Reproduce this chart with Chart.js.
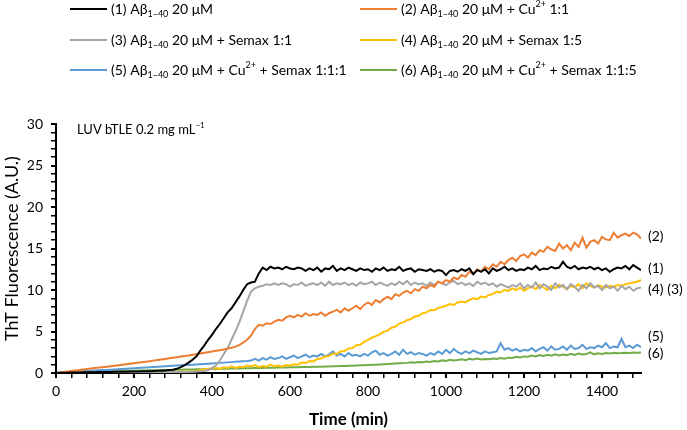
<!DOCTYPE html>
<html><head><meta charset="utf-8">
<script src="https://cdn.jsdelivr.net/npm/chart.js@4"></script>
<style>html,body{margin:0;padding:0;background:#fff}#wrap{width:687px;height:430px;position:relative}</style>
</head><body><div id="wrap"><canvas id="c"></canvas></div>
<script>
const FONT = 'Lato, "Open Sans", sans-serif';

const times = [
0,10,20,30,40,50,60,70,80,90,
100,110,120,130,140,150,160,170,180,190,
200,210,220,230,240,250,260,270,280,290,
300,310,320,330,340,350,360,370,380,390,
400,410,420,430,440,450,460,470,480,490,
500,510,520,530,540,550,560,570,580,590,
600,610,620,630,640,650,660,670,680,690,
700,710,720,730,740,750,760,770,780,790,
800,810,820,830,840,850,860,870,880,890,
900,910,920,930,940,950,960,970,980,990,
1000,1010,1020,1030,1040,1050,1060,1070,1080,1090,
1100,1110,1120,1130,1140,1150,1160,1170,1180,1190,
1200,1210,1220,1230,1240,1250,1260,1270,1280,1290,
1300,1310,1320,1330,1340,1350,1360,1370,1380,1390,
1400,1410,1420,1430,1440,1450,1460,1470,1480,1490,
1500];

const s1_AB = [
0.00,0.02,0.03,0.04,0.05,0.06,0.07,0.08,0.09,0.10,
0.10,0.11,0.12,0.12,0.13,0.14,0.14,0.15,0.16,0.17,
0.18,0.19,0.20,0.21,0.22,0.24,0.26,0.28,0.31,0.35,
0.40,0.50,0.70,0.95,1.25,1.60,2.00,2.70,3.30,4.00,
4.60,5.30,5.90,6.60,7.30,7.80,8.50,9.20,10.0,10.7,
10.9,11.0,12.0,12.7,12.4,12.8,12.6,12.7,12.5,12.8,
12.6,12.5,12.7,12.6,12.3,12.6,12.4,12.7,12.2,12.6,
12.5,12.9,12.3,12.6,12.4,12.7,12.5,12.3,12.6,12.4,
12.5,12.2,12.6,12.4,12.7,12.3,12.5,12.4,12.8,12.3,
12.5,12.6,12.2,12.5,12.4,12.3,12.5,12.2,12.4,12.3,
11.8,12.3,12.4,12.2,12.5,12.3,12.6,11.9,12.4,12.2,
12.5,12.0,12.6,12.3,12.5,12.8,12.4,12.6,12.3,12.5,
12.4,12.7,12.5,12.9,12.4,12.6,12.5,12.8,12.6,12.7,
13.4,12.8,12.6,12.9,12.5,12.7,12.6,12.8,12.5,12.7,
12.4,12.6,12.2,12.5,12.7,12.6,12.9,12.5,13.0,12.7,
12.4];

const s2_AB_Cu = [
0.00,0.05,0.11,0.17,0.23,0.29,0.35,0.41,0.47,0.53,
0.59,0.65,0.70,0.76,0.82,0.88,0.94,1.00,1.06,1.12,
1.18,1.24,1.30,1.36,1.42,1.49,1.56,1.63,1.70,1.77,
1.84,1.91,1.98,2.05,2.12,2.19,2.27,2.35,2.43,2.51,
2.59,2.67,2.75,2.84,2.94,3.05,3.18,3.35,3.65,4.00,
4.50,5.30,5.80,5.70,6.00,5.90,6.20,6.40,6.30,6.70,
6.90,6.70,7.00,6.80,7.20,6.90,7.10,7.00,7.30,6.90,
7.20,7.40,7.60,7.30,7.80,7.50,7.80,8.10,7.70,8.20,
8.50,8.20,8.80,8.50,8.90,9.20,8.90,9.50,9.30,9.70,
9.90,9.60,10.1,9.90,10.4,10.2,10.6,10.4,11.0,10.8,
11.2,11.0,11.5,11.3,11.8,11.6,12.2,11.9,12.5,12.2,
12.8,12.5,13.1,12.8,13.4,13.1,13.6,13.9,13.5,14.1,
14.3,13.9,14.5,14.2,14.8,14.6,15.2,14.9,14.7,15.6,
15.0,15.4,14.8,15.7,15.2,16.3,15.1,15.8,16.0,15.6,
16.4,16.1,16.0,16.9,16.3,16.6,16.8,16.5,16.9,16.7,
16.2];

const s3_AB_Semax11 = [
0.00,0.01,0.02,0.02,0.03,0.03,0.04,0.04,0.05,0.05,
0.05,0.06,0.06,0.06,0.07,0.07,0.07,0.08,0.08,0.08,
0.09,0.09,0.09,0.10,0.10,0.10,0.10,0.11,0.11,0.11,
0.12,0.12,0.13,0.13,0.14,0.15,0.17,0.20,0.25,0.35,
0.60,0.90,1.50,2.30,3.00,4.00,5.00,6.10,7.40,8.70,
9.80,10.2,10.4,10.5,10.7,10.6,10.8,10.6,10.8,10.7,
10.4,10.7,10.6,10.9,10.5,10.7,10.8,10.6,10.9,10.5,
11.0,10.6,10.8,10.7,10.9,10.6,10.8,10.5,10.9,10.7,
10.8,11.0,10.6,10.9,10.7,10.5,10.8,10.6,11.0,10.7,
11.1,10.6,10.9,10.7,10.8,10.5,10.9,10.6,11.0,10.8,
10.6,10.9,11.1,10.7,10.9,10.6,10.8,10.5,11.0,10.7,
10.9,10.6,10.8,10.4,10.7,10.5,10.3,10.6,10.4,10.8,
10.2,10.6,10.3,10.9,10.2,10.7,10.4,10.0,10.8,10.3,
10.6,10.1,10.7,10.4,9.90,10.6,10.2,10.8,10.3,10.5,
10.0,10.6,10.2,10.4,9.90,10.5,10.1,10.4,9.90,10.2,
10.3];

const s4_AB_Semax15 = [
0.00,0.01,0.01,0.02,0.02,0.03,0.03,0.04,0.04,0.05,
0.05,0.06,0.06,0.07,0.07,0.08,0.08,0.09,0.09,0.10,
0.10,0.11,0.11,0.12,0.12,0.13,0.13,0.14,0.14,0.15,
0.15,0.16,0.16,0.17,0.18,0.20,0.25,0.35,0.45,0.50,
0.55,0.60,0.50,0.70,0.60,0.80,0.60,0.75,0.70,0.90,
0.80,0.95,0.70,0.85,0.75,1.00,0.80,0.90,0.75,0.95,
0.90,1.05,1.00,1.25,1.20,1.45,1.40,1.70,1.75,2.00,
2.05,2.35,2.30,2.60,2.65,2.95,3.00,3.35,3.40,3.75,
4.00,4.25,4.45,4.65,4.95,5.10,5.45,5.60,5.95,6.10,
6.35,6.50,6.80,6.90,7.20,7.30,7.60,7.55,7.85,7.95,
8.10,8.30,8.20,8.50,8.60,8.50,8.80,9.00,8.90,9.20,
9.10,9.40,9.50,9.80,9.70,10.0,9.90,10.2,10.0,10.3,
9.90,10.2,10.4,10.1,10.6,10.3,10.0,10.5,10.2,10.6,
10.4,10.1,10.5,10.3,10.7,10.2,10.8,10.5,10.3,10.6,
10.4,10.3,10.5,10.4,10.6,10.5,10.7,10.8,10.9,11.0,
11.2];

const s5_AB_Cu_Semax111 = [
0.00,0.03,0.06,0.09,0.12,0.15,0.17,0.20,0.23,0.26,
0.29,0.32,0.35,0.37,0.40,0.43,0.46,0.49,0.52,0.55,
0.58,0.61,0.63,0.66,0.69,0.72,0.75,0.78,0.80,0.83,
0.86,0.89,0.92,0.95,0.97,1.00,1.03,1.06,1.09,1.12,
1.15,1.19,1.22,1.25,1.28,1.31,1.35,1.38,1.41,1.44,
1.50,1.70,1.50,1.80,1.60,1.90,1.70,1.80,2.00,1.70,
1.90,2.10,1.80,2.00,2.20,1.90,2.10,2.00,2.30,2.00,
2.20,2.60,2.10,2.30,2.00,2.40,2.10,2.20,2.00,2.30,
2.10,2.50,2.70,2.20,2.40,2.10,2.30,2.60,2.20,2.80,
2.30,2.50,2.20,2.40,2.30,2.10,2.40,2.20,2.60,2.30,
2.80,2.40,2.90,2.50,2.30,2.60,2.40,2.70,2.50,2.30,
2.60,2.40,2.50,2.60,3.60,2.80,3.00,2.70,2.90,2.60,
2.80,2.70,3.00,2.60,2.90,3.10,2.70,3.20,2.80,2.90,
3.20,2.80,3.30,2.90,3.00,3.40,2.90,3.10,3.00,3.30,
3.10,3.60,3.00,3.20,3.10,4.10,3.10,3.30,3.00,3.40,
3.10];

const s6_AB_Cu_Semax115 = [
0.00,0.02,0.03,0.05,0.06,0.08,0.09,0.11,0.12,0.14,
0.15,0.17,0.18,0.19,0.21,0.22,0.23,0.25,0.26,0.27,
0.28,0.29,0.30,0.31,0.32,0.33,0.34,0.35,0.36,0.37,
0.38,0.39,0.40,0.41,0.42,0.43,0.44,0.45,0.46,0.47,
0.48,0.49,0.50,0.51,0.52,0.53,0.54,0.55,0.56,0.57,
0.58,0.59,0.60,0.61,0.62,0.63,0.64,0.65,0.66,0.67,
0.68,0.69,0.70,0.71,0.72,0.73,0.74,0.75,0.76,0.77,
0.78,0.80,0.81,0.83,0.85,0.86,0.88,0.90,0.92,0.94,
0.96,0.98,1.00,1.02,1.05,1.08,1.10,1.13,1.16,1.19,
1.22,1.28,1.25,1.33,1.30,1.38,1.34,1.45,1.40,1.52,
1.46,1.60,1.52,1.58,1.66,1.55,1.70,1.62,1.75,1.64,
1.70,1.65,1.75,1.68,1.80,1.72,1.85,1.80,1.95,1.88,
2.00,1.96,2.10,2.00,2.15,2.05,2.20,2.08,2.25,2.12,
2.22,2.15,2.30,2.18,2.35,2.22,2.28,2.50,2.25,2.38,
2.30,2.42,2.34,2.45,2.38,2.40,2.45,2.42,2.48,2.44,
2.46];

// Legend labels: _{..} = subscript, ^{..} = superscript
const seriesLabels = [
  "(1) A\u03B2_{1\u201340} 20 \u03BCM",
  "(2) A\u03B2_{1\u201340} 20 \u03BCM + Cu^{2+} 1:1",
  "(3) A\u03B2_{1\u201340} 20 \u03BCM + Semax 1:1",
  "(4) A\u03B2_{1\u201340} 20 \u03BCM + Semax 1:5",
  "(5) A\u03B2_{1\u201340} 20 \u03BCM + Cu^{2+} + Semax 1:1:1",
  "(6) A\u03B2_{1\u201340} 20 \u03BCM + Cu^{2+} + Semax 1:1:5"
];
const seriesValues = [s1_AB, s2_AB_Cu, s3_AB_Semax11, s4_AB_Semax15, s5_AB_Cu_Semax111, s6_AB_Cu_Semax115];
const seriesColors = ['#000000', '#ED7D31', '#A5A5A5', '#FFC000', '#5B9BD5', '#70AD47'];

// End-of-line tags and their y-values
const endTags = ["(2)", "(1)", "(4) (3)", "(5)", "(6)"];
const endTagValues = [16.5, 12.6, 10.1, 4.4, 2.3];
const annotationText = "LUV bTLE 0.2 mg mL^{\u22121}";

const xTitle = "Time (min)";
const yTitle = "ThT Fluorescence (A.U.)";

function parseRich(str) {
  const parts = [];
  const re = /(_\{[^}]*\}|\^\{[^}]*\})/g;
  let last = 0, m;
  while ((m = re.exec(str)) !== null) {
    if (m.index > last) parts.push({t: str.slice(last, m.index), k: 'n'});
    parts.push({t: m[0].slice(2, -1), k: m[0][0] === '_' ? 'sub' : 'sup'});
    last = m.index + m[0].length;
  }
  if (last < str.length) parts.push({t: str.slice(last), k: 'n'});
  return parts;
}
function plain(str) { return parseRich(str).map(p => p.t).join(''); }
function drawRich(ctx, x, y, str, size) {
  ctx.save();
  ctx.textBaseline = 'middle';
  ctx.textAlign = 'left';
  ctx.fillStyle = '#000';
  for (const p of parseRich(str)) {
    let fs = size, dy = 0;
    if (p.k === 'sub') { fs = Math.round(size * 0.62); dy = size * 0.36; }
    if (p.k === 'sup') { fs = Math.round(size * 0.62); dy = -size * 0.33; }
    ctx.font = fs + 'px ' + FONT;
    ctx.fillText(p.t, x, y + dy);
    x += ctx.measureText(p.t).width;
  }
  ctx.restore();
}

const richPlugin = {
  id: 'richText',
  afterDraw(chart) {
    const ctx = chart.ctx;
    const area = chart.chartArea;
    const ys = chart.scales.y;
    // legend: 2 columns x 3 rows
    const colX = [70, 360];
    const rowY = [9, 40, 70];
    chart.data.datasets.forEach((ds, i) => {
      const cx = colX[i % 2], cy = rowY[Math.floor(i / 2)];
      ctx.save();
      ctx.strokeStyle = ds.borderColor;
      ctx.lineWidth = 2;
      ctx.beginPath();
      ctx.moveTo(cx, cy); ctx.lineTo(cx + 37, cy);
      ctx.stroke();
      ctx.restore();
      drawRich(ctx, cx + 41, cy, seriesLabels[i], 14);
    });
    // annotation
    drawRich(ctx, area.left + 21, ys.getPixelForValue(29.3), annotationText, 13);
    // end tags
    endTags.forEach((t, i) => {
      drawRich(ctx, area.right + 7, ys.getPixelForValue(endTagValues[i]), t, 14);
    });
  }
};

const ctx = document.getElementById('c');
new Chart(ctx, {
  type: 'line',
  data: {
    datasets: seriesValues.map((vals, i) => ({
      label: plain(seriesLabels[i]),
      data: times.map((t, k) => ({x: t, y: vals[k]})),
      borderColor: seriesColors[i],
      backgroundColor: seriesColors[i],
      borderWidth: 2,
      pointRadius: 0,
      tension: 0,
      fill: false
    }))
  },
  options: {
    responsive: true,
    maintainAspectRatio: false,
    animation: false,
    devicePixelRatio: 1,
    layout: { padding: { top: 124, right: 46, bottom: 0, left: 0 } },
    plugins: { legend: { display: false }, tooltip: { enabled: false } },
    scales: {
      x: {
        type: 'linear', min: 0, max: 1500,
        afterFit(s) { s.height = 57; },
        border: { color: '#000', width: 2 },
        grid: { drawOnChartArea: false, drawTicks: true, tickLength: 5, color: '#000',
                lineWidth: c => (c.tick && c.tick.value % 200 === 0) ? 2 : 1.5 },
        ticks: { stepSize: 40, includeBounds: false, autoSkip: false, maxRotation: 0, padding: 5,
                 color: '#000', font: { family: FONT, size: 14 },
                 callback: v => (v % 200 === 0 ? String(v) : '') },
        title: { display: true, text: xTitle, color: '#000', padding: { top: 0, bottom: 0 },
                 font: { family: FONT, size: 17, weight: 'bold' } }
      },
      y: {
        type: 'linear', min: 0, max: 30,
        afterFit(s) { s.width = 56; },
        border: { color: '#000', width: 2 },
        grid: { drawOnChartArea: false, drawTicks: true, tickLength: 5, color: '#000',
                lineWidth: c => (c.tick && c.tick.value % 5 === 0) ? 2 : 1.5 },
        ticks: { stepSize: 1, autoSkip: false, padding: 8, color: '#000',
                 font: { family: FONT, size: 14 },
                 callback: v => (v % 5 === 0 ? String(v) : '') },
        title: { display: true, text: yTitle, color: '#000', padding: { top: 1, bottom: 0 },
                 font: { family: FONT, size: 18 } }
      }
    }
  },
  plugins: [richPlugin]
});
</script>
</body></html>
